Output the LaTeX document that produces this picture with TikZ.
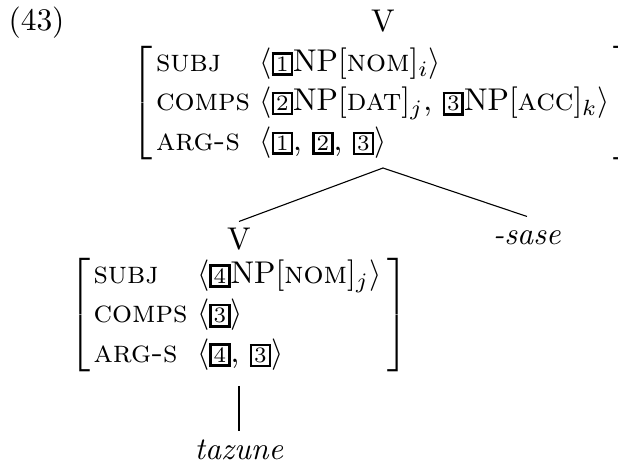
\documentclass[tikz,border=0pt]{standalone}
\usepackage{amsmath,amssymb}
\usepackage{tikz}
\usetikzlibrary{positioning,calc}

% boxed tag for structure sharing
\newcommand{\tagbox}[1]{{\setlength{\fboxsep}{0.6pt}\setlength{\fboxrule}{0.8pt}\fbox{\scriptsize #1}}}
\newcommand{\feat}[1]{\textsc{#1}}
\renewcommand{\arraystretch}{1.05}

\tikzset{
    avm/.style={inner sep=0pt},
    word/.style={inner sep=2pt, text height=1.6ex, text depth=0.25ex, anchor=base}
}

\begin{document}
\begin{tikzpicture}[x=0.318pt,y=-0.318pt,line width=0.35pt]
    \useasboundingbox (0,0) rectangle (618,466);

    % example number
    \node[word, anchor=base west, inner sep=0pt] (num) at (8,31) {(43)};

    % mother V
    \node[word] (vtop) at (383,32) {V};
    \node[avm] (avmtop) at (383,103) {$\left[\begin{tabular}{@{\hspace{1pt}}l@{\hspace{3pt}}l@{\hspace{1pt}}}
        \feat{subj}  & $\langle$\tagbox{1}NP$[$\feat{nom}$]_i\rangle$ \\
        \feat{comps} & $\langle$\tagbox{2}NP$[$\feat{dat}$]_j$, \tagbox{3}NP$[$\feat{acc}$]_k\rangle$ \\
        \feat{arg-s} & $\langle$\tagbox{1}, \tagbox{2}, \tagbox{3}$\rangle$
    \end{tabular}\right]$};
    \coordinate (apex) at (383,168);

    % daughter V
    \node[word] (vlow) at (239,250) {V};
    \node[avm] (avmlow) at (239,315) {$\left[\begin{tabular}{@{\hspace{1pt}}l@{\hspace{3pt}}l@{\hspace{2pt}}}
        \feat{subj}  & $\langle$\tagbox{4}NP$[$\feat{nom}$]_j\rangle$ \\
        \feat{comps} & $\langle$\tagbox{3}$\rangle$ \\
        \feat{arg-s} & $\langle$\tagbox{4}, \tagbox{3}$\rangle$
    \end{tabular}\right]$};

    % suffix
    \node[word] (sase) at (527,245) {\textit{-sase}};

    % stem
    \node[word] (stem) at (239,460) {\textit{tazune}};

    % branches
    \draw (apex) -- (vlow.north);
    \draw (apex) -- (sase.north);
    \path (avmlow.south) ++(0,11) coordinate (lowfoot);
    \draw (lowfoot) -- (stem.north);
\end{tikzpicture}
\end{document}
